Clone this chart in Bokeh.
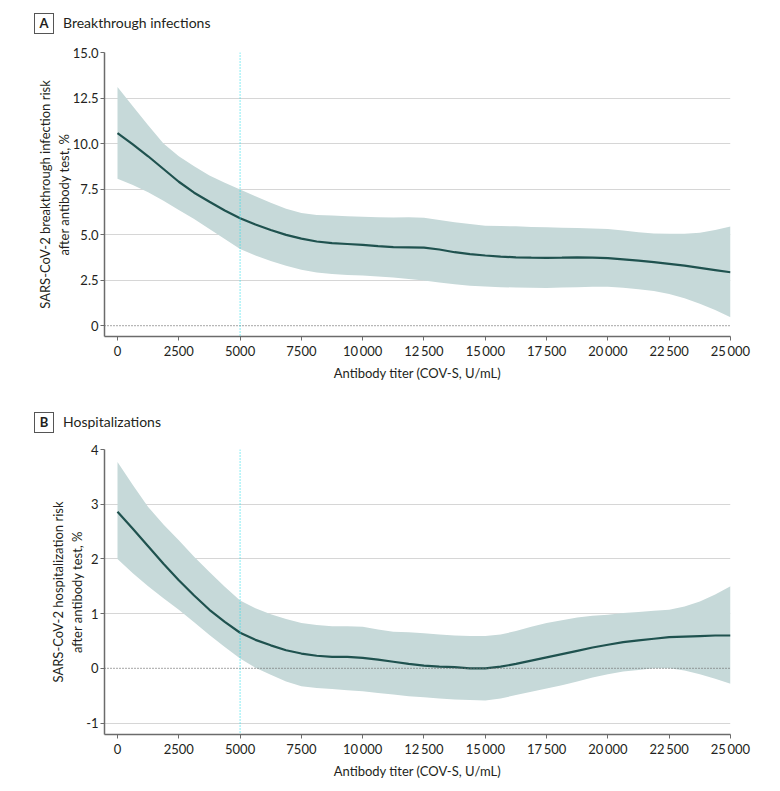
from bokeh.plotting import figure
from bokeh.layouts import column
from bokeh.models import Range1d, FixedTicker, Span, ColumnDataSource, Div
from bokeh.embed import file_html
from bokeh.resources import INLINE

# ---- data ----
titer = [0, 625, 1250, 1875, 2500, 3125, 3750, 4375, 5000, 5625, 6250, 6875, 7500,
         8125, 8750, 9375, 10000, 10625, 11250, 11875, 12500, 13125, 13750, 14375,
         15000, 15625, 16250, 16875, 17500, 18125, 18750, 19375, 20000, 20625,
         21250, 21875, 22500, 23125, 23750, 24375, 25000]

inf_est = [10.57, 9.95, 9.30, 8.60, 7.90, 7.30, 6.80, 6.32, 5.90, 5.55, 5.25, 4.98, 4.78,
           4.62, 4.53, 4.48, 4.43, 4.36, 4.31, 4.30, 4.28, 4.18, 4.03, 3.92,
           3.85, 3.79, 3.75, 3.73, 3.72, 3.73, 3.75, 3.73, 3.70, 3.64,
           3.57, 3.49, 3.39, 3.29, 3.17, 3.05, 2.93]
inf_hi = [13.10, 12.05, 11.00, 10.00, 9.30, 8.75, 8.25, 7.85, 7.47, 7.10, 6.75, 6.42, 6.18,
          6.08, 6.04, 6.00, 5.98, 5.95, 5.93, 5.95, 5.92, 5.80, 5.68, 5.58,
          5.49, 5.47, 5.45, 5.42, 5.40, 5.38, 5.36, 5.33, 5.30, 5.22,
          5.12, 5.06, 5.04, 5.04, 5.10, 5.25, 5.44]
inf_lo = [8.06, 7.72, 7.32, 6.85, 6.35, 5.85, 5.30, 4.75, 4.21, 3.85, 3.55, 3.28, 3.06,
          2.92, 2.83, 2.78, 2.75, 2.70, 2.64, 2.56, 2.47, 2.37, 2.27, 2.19,
          2.14, 2.11, 2.09, 2.08, 2.07, 2.09, 2.11, 2.13, 2.13, 2.08,
          2.00, 1.90, 1.74, 1.50, 1.20, 0.85, 0.46]

hosp_est = [2.86, 2.55, 2.23, 1.91, 1.61, 1.33, 1.07, 0.85, 0.65, 0.52, 0.42, 0.33, 0.27,
            0.23, 0.21, 0.21, 0.19, 0.16, 0.12, 0.08, 0.05, 0.03, 0.02, 0.00,
            0.00, 0.03, 0.08, 0.14, 0.20, 0.26, 0.32, 0.38, 0.43, 0.48,
            0.51, 0.54, 0.57, 0.58, 0.59, 0.60, 0.60]
hosp_hi = [3.77, 3.35, 2.95, 2.63, 2.34, 2.04, 1.76, 1.49, 1.24, 1.10, 0.99, 0.90, 0.83,
           0.79, 0.77, 0.77, 0.76, 0.71, 0.67, 0.66, 0.64, 0.62, 0.60, 0.59,
           0.59, 0.62, 0.68, 0.76, 0.83, 0.88, 0.93, 0.96, 0.98, 1.01,
           1.03, 1.05, 1.07, 1.13, 1.22, 1.35, 1.50]
hosp_lo = [2.00, 1.74, 1.50, 1.28, 1.07, 0.84, 0.61, 0.39, 0.18, 0.01, -0.12, -0.24, -0.33,
           -0.36, -0.38, -0.40, -0.42, -0.45, -0.48, -0.51, -0.53, -0.55, -0.57, -0.58,
           -0.59, -0.55, -0.49, -0.43, -0.37, -0.31, -0.24, -0.17, -0.11, -0.06,
           -0.03, 0.00, 0.00, -0.04, -0.11, -0.19, -0.28]

x_ticks = [0, 2500, 5000, 7500, 10000, 12500, 15000, 17500, 20000, 22500, 25000]
x_tick_labels = ["0", "2500", "5000", "7500", "10\u2009000", "12\u2009500", "15\u2009000",
                 "17\u2009500", "20\u2009000", "22\u2009500", "25\u2009000"]

a_ticks = [0, 2.5, 5, 7.5, 10, 12.5, 15]
a_tick_labels = ["0", "2.5", "5.0", "7.5", "10.0", "12.5", "15.0"]
b_ticks = [-1, 0, 1, 2, 3, 4]
b_tick_labels = ["-1", "0", "1", "2", "3", "4"]

threshold = 5000

FONT = "Lato"
TXT = "#231f20"
BAND = "#c6d9d9"
LINE = "#1f524f"


def make_title(letter, title, height, pad_top):
    html = (
        f'<div style="font-family:Lato;font-size:14px;color:{TXT};'
        f'padding-left:34px;padding-top:{pad_top}px;line-height:20px;white-space:nowrap">'
        f'<span style="display:inline-block;box-sizing:border-box;border:1.3px solid #555555;'
        f'width:20px;height:21px;text-align:center;font-weight:bold;font-size:13px;'
        f'line-height:19px;vertical-align:middle">{letter}</span>'
        f'<span style="margin-left:9px;vertical-align:middle">{title}</span></div>'
    )
    return Div(text=html, width=772, height=height, margin=(0, 0, 0, 0))


def make_panel(height, ylo, yhi, est, lo, hi, yticks, ylabels, ylabel,
               top_border, bottom_border):
    p = figure(width=772, height=height, output_backend="svg", toolbar_location=None,
               x_range=Range1d(-530, 25000), y_range=Range1d(ylo, yhi),
               min_border_left=104, min_border_right=42, min_border_top=top_border,
               min_border_bottom=bottom_border)
    p.outline_line_color = None
    p.background_fill_color = "white"
    p.border_fill_color = "white"

    src = ColumnDataSource(dict(x=titer, est=est, lo=lo, hi=hi))
    p.varea(x="x", y1="lo", y2="hi", source=src, fill_color=BAND, fill_alpha=1.0)
    p.line(x="x", y="est", source=src, line_color=LINE, line_width=2.2)

    p.add_layout(Span(location=0, dimension="width", line_color="#6f6f6f",
                      line_dash="1 2", line_width=1.2))
    p.add_layout(Span(location=threshold, dimension="height", line_color="#22dbe8",
                      line_dash="1 2", line_width=1.1))

    p.xaxis.ticker = FixedTicker(ticks=x_ticks)
    p.xaxis.major_label_overrides = {t: l for t, l in zip(x_ticks, x_tick_labels)}
    p.yaxis.ticker = FixedTicker(ticks=yticks)
    p.yaxis.major_label_overrides = {t: l for t, l in zip(yticks, ylabels)}
    for ax in (p.xaxis, p.yaxis):
        ax.axis_line_color = "#6b6b6b"
        ax.axis_line_width = 1.5
        ax.major_tick_line_color = "#6b6b6b"
        ax.major_tick_out = 4
        ax.major_tick_in = 0
        ax.minor_tick_line_color = None
        ax.major_label_text_font = FONT
        ax.major_label_text_font_size = "13px"
        ax.major_label_text_color = TXT
        ax.axis_label_text_font = FONT
        ax.axis_label_text_font_size = "13px"
        ax.axis_label_text_font_style = "normal"
        ax.axis_label_text_color = TXT
    p.xaxis.axis_label = "Antibody titer (COV-S, U/mL)"
    p.yaxis.axis_label = ylabel
    p.yaxis.major_label_standoff = 2
    p.xaxis.major_label_standoff = 2
    p.yaxis.axis_label_standoff = -2
    p.xaxis.axis_label_standoff = 3

    p.xgrid.visible = False
    p.ygrid.ticker = FixedTicker(ticks=[t for t in yticks if t != 0])
    p.ygrid.grid_line_color = "#d6d6d6"
    p.ygrid.grid_line_width = 1.2
    return p


ta = make_title("A", "Breakthrough infections", 36, 12)
pa = make_panel(369, -0.6, 15.0, inf_est, inf_lo, inf_hi, a_ticks, a_tick_labels,
                "SARS-CoV-2 breakthrough infection risk\nafter antibody test, %", 16, 69)
tb = make_title("B", "Hospitalizations", 36, 6)
pb = make_panel(349, -1.21, 4.0, hosp_est, hosp_lo, hosp_hi, b_ticks, b_tick_labels,
                "SARS-CoV-2 hospitalization risk\nafter antibody test, %", 8, 56)

layout = column(ta, pa, tb, pb, spacing=0)
open("out.html", "w").write(file_html(layout, INLINE))
